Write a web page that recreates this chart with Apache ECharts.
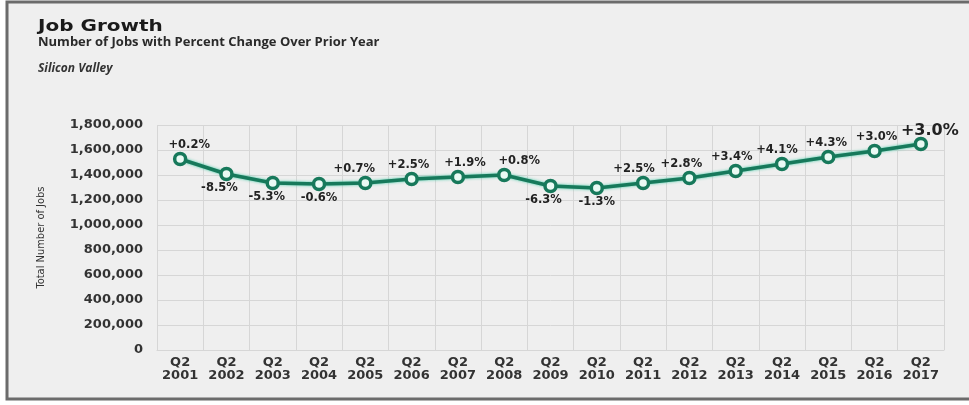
<!DOCTYPE html>
<html>
<head>
<meta charset="utf-8">
<script src="https://cdn.jsdelivr.net/npm/echarts@6/dist/echarts.min.js"></script>
<style>
  html, body { margin: 0; padding: 0; background: #ffffff; }
  #chart { width: 969px; height: 405px; }
</style>
</head>
<body>
<div id="chart"></div>
<script>
// Silicon Valley employment, Q2 of each year
const quarters = ['Q2', 'Q2', 'Q2', 'Q2', 'Q2', 'Q2', 'Q2', 'Q2', 'Q2', 'Q2', 'Q2', 'Q2', 'Q2', 'Q2', 'Q2', 'Q2', 'Q2'];
const years = ['2001', '2002', '2003', '2004', '2005', '2006', '2007', '2008', '2009',
               '2010', '2011', '2012', '2013', '2014', '2015', '2016', '2017'];
const totalJobs = [1528000, 1408000, 1336000, 1328000, 1336000, 1368000, 1384000, 1400000, 1312000,
                   1296000, 1336000, 1376000, 1432000, 1488000, 1544000, 1592000, 1648000];
// Percent change over prior year
const pctChange = [0.2, -8.5, -5.3, -0.6, 0.7, 2.5, 1.9, 0.8, -6.3,
                   -1.3, 2.5, 2.8, 3.4, 4.1, 4.3, 3.0, 3.0];
const yTicks = { min: 0, max: 1800000, step: 200000 };

// Small horizontal nudges so neighbouring labels don't collide
const labelShift = [9, -7, -6, 0, -11, -3, 7, 15, -7, 0, -9, -8, -4, -5, -2, 2, 9];

const categories = quarters.map((q, i) => q + '\n' + years[i]);
const fmtPct = v => (v >= 0 ? '+' : '') + v.toFixed(1) + '%';
const lastIdx = totalJobs.length - 1;

const seriesData = totalJobs.map((v, i) => ({
  value: v,
  label: {
    position: pctChange[i] >= 0 ? 'top' : 'bottom',
    offset: [labelShift[i], i === lastIdx ? 3 : 0],
    fontSize: i === lastIdx ? 16 : 11.5
  }
}));

const chart = echarts.init(document.getElementById('chart'), null, { renderer: 'canvas' });

chart.setOption({
  backgroundColor: '#ffffff',
  animation: false,
  graphic: [
    {
      type: 'rect', z: -10, silent: true,
      shape: { x: 7, y: 2, width: 1000, height: 397 },
      style: { fill: '#efefef', stroke: '#6b6b6b', lineWidth: 3 }
    },
    {
      type: 'text', left: 38, top: 19, scaleX: 1.25,
      style: { text: 'Job Growth', fill: '#1a1a1a', font: 'bold 16px "DejaVu Sans"' }
    },
    {
      type: 'text', left: 38, top: 36,
      style: { text: 'Number of Jobs with Percent Change Over Prior Year', fill: '#2a2a2a',
               font: 'bold 13px "Open Sans"' }
    },
    {
      type: 'text', left: 38, top: 63,
      style: { text: 'Silicon Valley', fill: '#333333', font: 'italic bold 12px "Open Sans"' }
    }
  ],
  grid: { left: 157, right: 25, top: 125, bottom: 55, containLabel: false },
  xAxis: {
    type: 'category',
    data: categories,
    boundaryGap: true,
    axisLine: { show: true, lineStyle: { color: '#d6d6d6', width: 1 } },
    axisTick: { show: false },
    splitLine: { show: true, lineStyle: { color: '#d6d6d6', width: 1 } },
    axisLabel: {
      interval: 0, margin: 6, color: '#333333',
      fontFamily: 'DejaVu Sans', fontWeight: 'bold', fontSize: 13, lineHeight: 13
    }
  },
  yAxis: {
    type: 'value',
    min: yTicks.min, max: yTicks.max, interval: yTicks.step,
    name: 'Total Number of Jobs',
    nameLocation: 'middle',
    nameGap: 110,
    nameTextStyle: { fontFamily: '"Liberation Sans Narrow", "DejaVu Sans Condensed", sans-serif',
                     fontSize: 11, color: '#333333' },
    axisLine: { show: false },
    axisTick: { show: false },
    splitLine: { show: true, lineStyle: { color: '#d6d6d6', width: 1 } },
    axisLabel: {
      margin: 14, color: '#333333',
      fontFamily: 'DejaVu Sans', fontWeight: 'bold', fontSize: 13,
      formatter: v => v.toLocaleString('en-US')
    }
  },
  series: [{
    type: 'line',
    data: seriesData,
    symbol: 'circle',
    symbolSize: 11,
    itemStyle: { color: '#eafaf4', borderColor: '#17795b', borderWidth: 3.5 },
    lineStyle: { color: '#17795b', width: 3.5,
                 shadowColor: 'rgba(50,200,160,0.9)', shadowBlur: 3 },
    label: {
      show: true, distance: 1,
      color: '#222222', fontFamily: 'DejaVu Sans', fontWeight: 'bold',
      formatter: p => fmtPct(pctChange[p.dataIndex])
    }
  }]
});
</script>
</body>
</html>
